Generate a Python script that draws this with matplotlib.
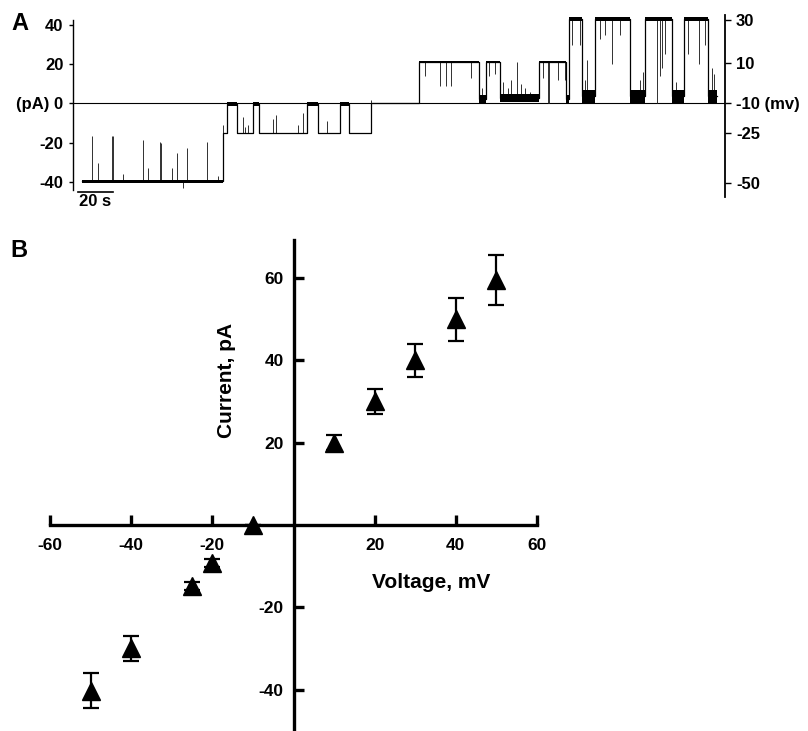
import matplotlib
matplotlib.use('Agg')
import matplotlib.pyplot as plt
import numpy as np

plt.rcParams['font.family'] = ['Liberation Sans', 'DejaVu Sans']
plt.rcParams['font.weight'] = 'bold'
plt.rcParams['axes.unicode_minus'] = False

# ---- Panel A: single-channel trace (levels) ----
# segments: start (s), end (s), current level (pA), noise half-width (pA)
seg_t0 = [0, 80.6, 82.9, 88.6, 97.7, 101.1, 128.6, 134.9, 147.4, 152.6, 165.1,
          192.6, 226.9, 230.9, 238.9, 261.1, 276.6, 278.3, 285.7, 293.1, 313.1,
          321.7, 337.1, 344.0, 357.7]
seg_t1 = [80.6, 82.9, 88.6, 97.7, 101.1, 128.6, 134.9, 147.4, 152.6, 165.1, 192.6,
          226.9, 230.9, 238.9, 261.1, 276.6, 278.3, 285.7, 293.1, 313.1, 321.7,
          337.1, 344.0, 357.7, 362.9]
seg_level = [-39.8, -15.2, -0.5, -15.2, -0.5, -15.2, -0.5, -15.2, -0.5, -15.2, 0.3,
             21.0, 2.0, 21.0, 2.5, 21.0, 2.0, 43.0, 3.5, 43.0, 3.5,
             43.0, 3.5, 43.0, 3.5]
seg_noise = [0.8, 0.3, 1.0, 0.3, 1.0, 0.3, 1.0, 0.3, 1.0, 0.3, 0.1,
             0.6, 2.0, 0.6, 2.0, 0.6, 2.0, 0.8, 3.3, 0.8, 3.3,
             0.8, 3.3, 0.8, 3.3]

# brief transitions (time in s, peak current in pA)
spike_t = [5.5, 9.3, 17.0, 17.9, 23.6, 34.7, 37.9, 44.6, 45.1, 51.6, 54.1, 57.9,
           59.8, 71.3, 77.7, 80.4, 92.0, 93.0, 94.9, 109.0, 110.9, 123.4, 126.3,
           140.0, 165.1, 196.0, 204.6, 208.0, 210.9, 222.3, 228.6, 232.6, 236.0,
           240.6, 243.4, 245.0, 248.6, 250.9, 253.0, 256.0, 263.4, 266.3, 266.9,
           272.0, 276.0, 280.0, 284.6, 287.4, 288.6, 296.0, 298.9, 302.9, 307.4,
           318.9, 320.6, 328.6, 330.3, 331.4, 333.0, 339.4, 346.0, 352.6, 356.0,
           360.0, 361.0]
spike_peak = [-16.5, -30.3, -16.5, -16.5, -36.0, -18.7, -33.0, -19.6, -20.0, -32.8,
              -25.2, -43.4, -23.0, -19.9, -37.0, -11.0, -7.0, -12.0, -11.0, -8.0,
              -6.0, -11.0, -5.0, -9.0, 1.5, 14.0, 9.0, 9.0, 9.0, 13.0, 8.0, 14.0,
              15.0, 11.0, 8.0, 12.0, 21.0, 10.0, 8.0, 6.0, 13.0, 0.0, 0.0, 12.0,
              12.0, 30.0, 30.0, 12.0, 22.0, 33.0, 35.0, 20.0, 35.0, 12.0, 16.0,
              0.0, 14.0, 18.0, 25.0, 11.0, 25.0, 20.0, 30.0, 18.0, 15.0]

left_ticks = [-40, -20, 0, 20, 40]
left_labels = ['-40', '-20', '(pA) 0', '20', '40']
# holding voltages marked on the right, at the current level they give
right_tick_pos = [42.5, 20.7, 0, -15.3, -40.5]
right_labels = ['30', '10', '-10 (mv)', '-25', '-50']

# ---- Panel B: I-V relation ----
voltage = [-50, -40, -25, -20, -10, 10, 20, 30, 40, 50]
current = [-40.2, -29.9, -14.8, -9.3, 0.0, 20.0, 30.0, 40.0, 49.9, 59.5]
current_err = [4.2, 3.0, 1.0, 1.0, 0.0, 1.8, 3.0, 4.0, 5.1, 6.1]

fig = plt.figure(figsize=(8.08, 7.31), dpi=100)

axA = fig.add_axes([73 / 808, 1 - 197 / 731, 652 / 808, 182 / 731])
axA.set_xlim(-5.14, 367.4)
axA.set_ylim(-47.8, 45.05)

# zero-current line
axA.axhline(0, color='black', lw=0.8, zorder=1)

xs, ys = [], []
for t0, t1, lv in zip(seg_t0, seg_t1, seg_level):
    xs += [t0, t1]
    ys += [lv, lv]
axA.plot(xs, ys, color='black', lw=0.9, zorder=3)
for t0, t1, lv, nz in zip(seg_t0, seg_t1, seg_level, seg_noise):
    if nz >= 0.5:
        axA.fill_between([t0, t1], lv - nz, lv + nz, color='black', lw=0, zorder=3)

seg_idx = np.searchsorted(np.array(seg_t1), np.array(spike_t))
seg_idx = np.clip(seg_idx, 0, len(seg_level) - 1)
spike_base = [seg_level[i] for i in seg_idx]
axA.vlines(spike_t, spike_base, spike_peak, color='#303030', lw=0.7, zorder=2)

for s in ['top', 'bottom', 'right']:
    axA.spines[s].set_visible(False)
axA.spines['left'].set_bounds(-44.2, 42.5)
axA.spines['left'].set_linewidth(1.0)
axA.set_xticks([])
axA.set_yticks(left_ticks)
axA.set_yticklabels(left_labels)
axA.tick_params(axis='y', direction='out', length=3, width=1, labelsize=12, pad=4)

axR = axA.twinx()
axR.set_ylim(axA.get_ylim())
for s in ['top', 'bottom', 'left']:
    axR.spines[s].set_visible(False)
axR.spines['right'].set_linewidth(1.3)
axR.set_yticks(right_tick_pos)
axR.set_yticklabels(right_labels)
axR.tick_params(axis='y', direction='out', length=4, width=1, labelsize=12, pad=4)

# 20 s scale bar
axA.plot([-2.3, 17.7], [-45.0, -45.0], color='black', lw=1.2, clip_on=False)
axA.text(7.7, -46.5, '20 s', ha='center', va='top', fontsize=12,
         fontweight='bold', clip_on=False)

fig.text(20 / 808, 1 - 24 / 731, 'A', ha='center', va='center', fontsize=17,
         fontweight='bold')

# ---- Panel B ----
axB = fig.add_axes([50.2 / 808, 0, 486.6 / 808, 491 / 731])
axB.set_xlim(-60, 60)
axB.set_ylim(-50, 69.2)
axB.spines['left'].set_position(('data', 0))
axB.spines['bottom'].set_position(('data', 0))
axB.spines['top'].set_visible(False)
axB.spines['right'].set_visible(False)
for s in ['left', 'bottom']:
    axB.spines[s].set_linewidth(2.4)
axB.set_xticks([-60, -40, -20, 20, 40, 60])
axB.set_yticks([-40, -20, 20, 40, 60])
axB.tick_params(axis='both', direction='in', length=7, width=2.4, labelsize=12.5)
axB.tick_params(axis='x', pad=9)
axB.tick_params(axis='y', pad=7)

axB.errorbar(voltage, current, yerr=current_err, fmt='^', color='black',
             ms=13, capsize=6, elinewidth=1.6, capthick=1.6, clip_on=False,
             zorder=5)

fig.text(430.8 / 808, 1 - 583 / 731, 'Voltage, mV', ha='center', va='center',
         fontsize=15, fontweight='bold')
fig.text(226.7 / 808, 1 - 380.5 / 731, 'Current, pA', ha='center', va='center',
         rotation=90, fontsize=15, fontweight='bold')
fig.text(19 / 808, 1 - 250.5 / 731, 'B', ha='center', va='center', fontsize=17,
         fontweight='bold')

fig.savefig('out.png', dpi=100)
